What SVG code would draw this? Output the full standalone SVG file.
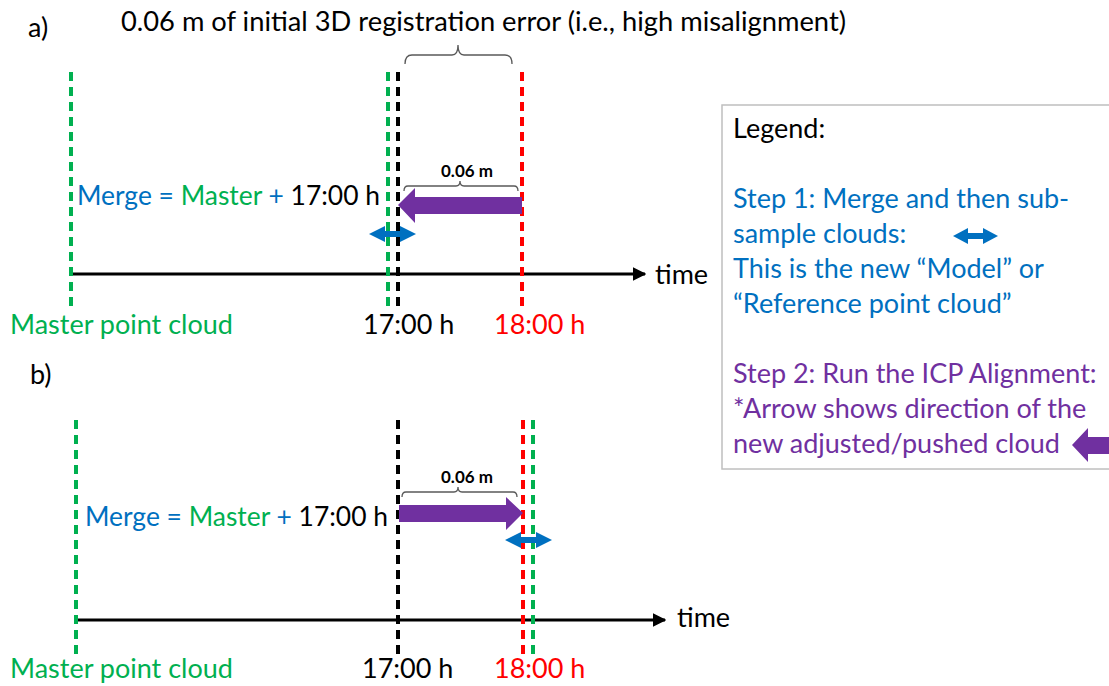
<svg xmlns="http://www.w3.org/2000/svg" width="1109" height="686" viewBox="0 0 1109 686">
<defs>
<style>
text{font-family:Lato,"Open Sans","Liberation Sans",sans-serif;font-size:27px}
.g{fill:#00B050}.b{fill:#0070C0}.r{fill:#FF0000}.k{fill:#000}.p{fill:#7030A0}
.dg{stroke:#00B050;stroke-width:4;stroke-dasharray:9 6;fill:none}
.dk{stroke:#000;stroke-width:4;stroke-dasharray:9 6;fill:none}
.dr{stroke:#FF0000;stroke-width:4;stroke-dasharray:9 6;fill:none}
.axis{stroke:#000;stroke-width:3;fill:none}
.brace{stroke:#595959;stroke-width:1.3;fill:none}
.bold{font-weight:bold;font-size:17px}
</style>
<marker id="ah" viewBox="0 0 10 10" refX="9" refY="5" markerWidth="4.5" markerHeight="4.5" orient="auto" markerUnits="strokeWidth">
<path d="M0,0 L10,5 L0,10 z" fill="#000"/>
</marker>
</defs>
<rect width="1109" height="686" fill="#fff"/>

<g id="panel-a-labels">
<text x="28" y="37" class="k" font-size="25">a)</text>
<text x="121" y="31" class="k" font-size="26" textLength="725" lengthAdjust="spacingAndGlyphs">0.06 m of initial 3D registration error (i.e., high misalignment)</text>
<path class="brace" d="M405,64 Q405,55 412,55 L452,55 Q458,55 458,45 Q458,55 464,55 L505,55 Q512,55 512,64"/>
</g>

<g id="connectors">
<line class="axis" x1="71" y1="274" x2="645" y2="274" marker-end="url(#ah)"/>
<line class="axis" x1="76" y1="620" x2="665" y2="620" marker-end="url(#ah)"/>
</g>

<g id="a-master-line"><line class="dg" x1="71" y1="72" x2="71" y2="312"/></g>
<g id="a-merge-line"><line class="dg" x1="388" y1="72" x2="388" y2="312"/></g>
<g id="a-1700-line"><line class="dk" x1="398" y1="72" x2="398" y2="312"/></g>
<g id="a-1800-line"><line class="dr" x1="522" y1="72" x2="522" y2="312"/></g>

<g id="a-merge-text">
<text x="77" y="205" textLength="303" lengthAdjust="spacingAndGlyphs"><tspan class="b">Merge = </tspan><tspan class="g">Master</tspan><tspan class="b"> + </tspan><tspan class="k">17:00 h</tspan></text>
</g>
<g id="a-offset">
<text x="467" y="177" class="bold k" text-anchor="middle">0.06 m</text>
<path class="brace" d="M404,191 Q404,186 408,186 L456,186 Q460,186 460,181 Q460,186 464,186 L514,186 Q518,186 518,191"/>
<path class="p" d="M398,205 L415,188 L415,197 L522,197 L522,214 L415,214 L415,223 z"/>
</g>
<g id="a-merge-arrow">
<path class="b" d="M369,234 L385,226 L385,231 L400,231 L400,226 L416,234 L400,242 L400,237 L385,237 L385,242 z"/>
</g>
<g id="a-time">
<text x="655" y="284" class="k" font-size="28">time</text>
<text x="10" y="334" class="g">Master point cloud</text>
<text x="363" y="334" class="k">17:00 h</text>
<text x="494" y="334" class="r">18:00 h</text>
</g>

<g id="panel-b-label"><text x="30" y="384" class="k" font-size="25">b)</text></g>
<g id="b-master-line"><line class="dg" x1="76" y1="420" x2="76" y2="655"/></g>
<g id="b-1700-line"><line class="dk" x1="398" y1="420" x2="398" y2="655"/></g>
<g id="b-1800-line"><line class="dr" x1="523" y1="420" x2="523" y2="655"/></g>
<g id="b-merge-line"><line class="dg" x1="533" y1="420" x2="533" y2="655"/></g>

<g id="b-merge-text">
<text x="85" y="526" textLength="303" lengthAdjust="spacingAndGlyphs"><tspan class="b">Merge = </tspan><tspan class="g">Master</tspan><tspan class="b"> + </tspan><tspan class="k">17:00 h</tspan></text>
</g>
<g id="b-offset">
<text x="467" y="483" class="bold k" text-anchor="middle">0.06 m</text>
<path class="brace" d="M402,497 Q402,492 406,492 L454,492 Q458,492 458,487 Q458,492 462,492 L513,492 Q517,492 517,497"/>
<path class="p" d="M399,505 L506,505 L506,497 L523,513 L506,530 L506,522 L399,522 z"/>
</g>
<g id="b-merge-arrow">
<path class="b" d="M505,540 L521,532 L521,537 L536,537 L536,532 L552,540 L536,548 L536,543 L521,543 L521,548 z"/>
</g>
<g id="b-time">
<text x="677" y="627" class="k" font-size="28">time</text>
<text x="10" y="678" class="g">Master point cloud</text>
<text x="362" y="678" class="k">17:00 h</text>
<text x="494" y="678" class="r">18:00 h</text>
</g>

<g id="legend">
<rect x="722" y="105" width="400" height="364" fill="#fff" stroke="#BFBFBF" stroke-width="1.5"/>
<text x="733" y="138" class="k">Legend:</text>
<text x="733" y="208" class="b">Step 1: Merge and then sub-</text>
<text x="733" y="243" class="b">sample clouds:</text>
<path class="b" d="M953,236 L968,228 L968,233 L983,233 L983,228 L998,236 L983,244 L983,239 L968,239 L968,244 z"/>
<text x="733" y="278" class="b">This is the new “Model” or</text>
<text x="733" y="313" class="b">“Reference point cloud”</text>
<text x="733" y="383" class="p">Step 2: Run the ICP Alignment:</text>
<text x="733" y="418" class="p">*Arrow shows direction of the</text>
<text x="733" y="453" class="p">new adjusted/pushed cloud</text>
<path class="p" d="M1072,445 L1088,428 L1088,437 L1109,437 L1109,454 L1088,454 L1088,462 z"/>
</g>
</svg>
